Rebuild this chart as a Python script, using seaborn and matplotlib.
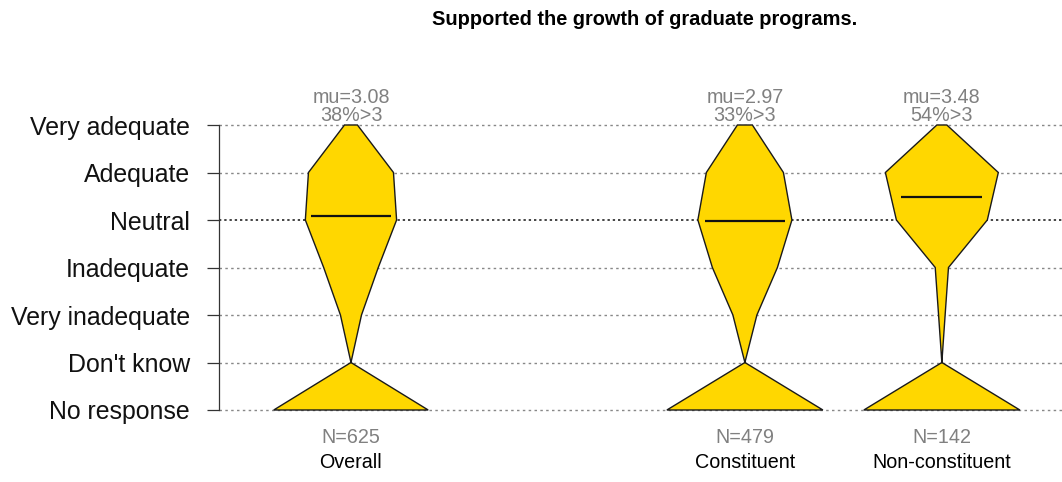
import numpy as np
import pandas as pd
import matplotlib
matplotlib.use("Agg")
import matplotlib.pyplot as plt
import seaborn as sns

# Data
levels = ["No response", "Don't know", "Very inadequate", "Inadequate",
          "Neutral", "Adequate", "Very adequate"]
groups = ["Overall", "Constituent", "Non-constituent"]
group_pos = [0, 2, 3]          # slot 1 is left empty

# relative width of each response level (No response -> Very adequate)
overall_w = [0.99, 0.0, 0.135, 0.35, 0.585, 0.545, 0.083]
constituent_w = [1.0, 0.0, 0.154, 0.417, 0.603, 0.494, 0.096]
nonconst_w = [1.0, 0.0, 0.042, 0.085, 0.583, 0.724, 0.064]

mus = [3.08, 2.97, 3.48]
pct_above = [38, 33, 54]
ns = [625, 479, 142]

title = "Supported the growth of graduate programs."

# long table
df = pd.DataFrame({
    "group": np.repeat(groups, len(levels)),
    "level": levels * len(groups),
    "width": overall_w + constituent_w + nonconst_w,
})
df["y"] = df["level"].map({lv: i for i, lv in enumerate(levels)})

sns.set_theme(style="white")
plt.rcParams["font.family"] = ["Liberation Sans", "DejaVu Sans"]
plt.rcParams["text.color"] = "black"

fig = plt.figure(figsize=(10.62, 4.82), dpi=100)
ax = fig.add_axes([219 / 1062, 1 - 433.75 / 482, 1 - 219 / 1062, (433.75 - 101.25) / 482])

half_max = 0.396   # half-width (x units) of a level with width 1
fill_col = "#FFD700"

# dotted grid lines
for i, lv in enumerate(levels):
    if lv == "Neutral":
        ax.axhline(i, color="#444444", lw=1.4, ls=(0, (1.2, 1.5)), zorder=1)
    else:
        ax.axhline(i, color="#888888", lw=1.0, ls=(0, (1.8, 2.4)), zorder=1)

for g, pos, mu, pct, n in zip(groups, group_pos, mus, pct_above, ns):
    sub = df[df["group"] == g].sort_values("y")
    w = sub["width"].to_numpy() * half_max
    yy = sub["y"].to_numpy()
    xs = np.concatenate([pos + w, (pos - w)[::-1]])
    ys = np.concatenate([yy, yy[::-1]])
    ax.fill(xs, ys, facecolor=fill_col, edgecolor="#1a1a1a", lw=1.0, zorder=2)
    # mean line (Very inadequate = 1 sits at level index 2)
    ax.plot([pos - 0.205, pos + 0.205], [mu + 1, mu + 1], color="#111111",
            lw=1.6, zorder=3, solid_capstyle="butt")
    ax.text(pos, 6.463, f"mu={mu:.2f}", ha="center", va="baseline",
            fontsize=14.2, color="#808080", clip_on=False, zorder=4)
    ax.text(pos, 6.084, f"{pct}%>3", ha="center", va="baseline",
            fontsize=14.2, color="#808080", clip_on=False, zorder=4)
    ax.text(pos, -0.695, f"N={n}", ha="center", va="baseline",
            fontsize=14.2, color="#808080", clip_on=False)
    ax.text(pos, -1.22, g, ha="center", va="baseline",
            fontsize=14.2, color="black", clip_on=False)

ax.set_xlim(-0.67, 3.61)
ax.set_ylim(-0.5, 6.5)
ax.set_xticks([])
ax.set_yticks(range(len(levels)))
ax.set_yticklabels(levels, fontsize=17.9)
ax.tick_params(axis="y", left=True, length=9, width=0.9, pad=12,
               color="#333333", labelcolor="#111111")
sns.despine(ax=ax, top=True, right=True, bottom=True)
ax.spines["left"].set_bounds(0, 6)
ax.spines["left"].set_color("#333333")
ax.spines["left"].set_linewidth(0.9)

fig.text(645 / 1062, 1 - 25 / 482, title, ha="center", va="baseline",
         fontsize=14.4, fontweight="bold")

fig.savefig("out.png", dpi=100)
